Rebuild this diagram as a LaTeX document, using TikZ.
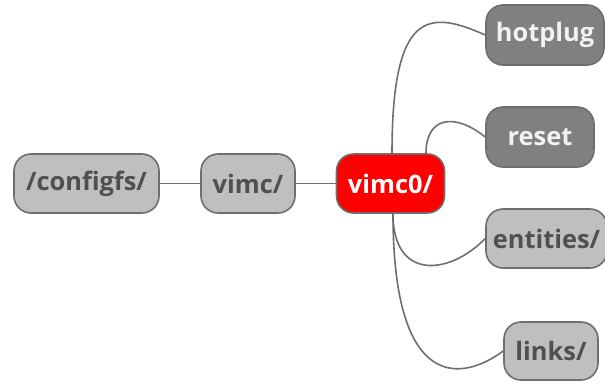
\documentclass[tikz,border=0pt]{standalone}
\usepackage{fontspec}
\setmainfont{Open Sans}
\definecolor{edgec}{HTML}{6E6E6E}
\definecolor{lightf}{HTML}{BFBFBF}
\definecolor{darkf}{HTML}{808080}
\definecolor{darktxt}{HTML}{505050}
\definecolor{lighttxt}{HTML}{F2F2F2}
\definecolor{redf}{HTML}{FF0000}
\tikzset{
  box/.style={draw=edgec, line width=1.6bp, rounded corners=17bp, inner sep=0pt,
    font=\fontsize{25.5}{28}\selectfont\bfseries},
  lightbox/.style={box, fill=lightf, text=darktxt},
  darkbox/.style={box, fill=darkf, text=lighttxt},
  redbox/.style={box, fill=redf, text=white},
  link/.style={draw=edgec, line width=1.6bp}
}
\begin{document}
\begin{tikzpicture}[x=1bp,y=-1bp]
\useasboundingbox (0,0) rectangle (605,384);
\node[lightbox, minimum width=145bp, minimum height=59bp] (configfs) at (86.5,183.5) {/configfs/};
\node[lightbox, minimum width=94bp, minimum height=59bp] (vimc) at (248,183.5) {vimc/};
\node[redbox, minimum width=108bp, minimum height=59bp] (vimc0) at (390.5,183.5) {vimc0/};
\node[darkbox, minimum width=118bp, minimum height=60bp] (hotplug) at (545,35) {hotplug};
\node[darkbox, minimum width=108bp, minimum height=60bp] (reset) at (540,137) {reset};
\node[lightbox, minimum width=121bp, minimum height=59bp] (entities) at (546.5,238.5) {entities/};
\node[lightbox, minimum width=94bp, minimum height=58bp] (links) at (551,351) {links/};
\draw[link] (configfs) -- (vimc);
\draw[link] (vimc) -- (vimc0);
\draw[link] ([xshift=1.5bp]vimc0.north) .. controls +(0,-144) and +(-56,-25) .. (hotplug.west);
\draw[link] ([xshift=35.5bp]vimc0.north) .. controls +(0,-36) and +(-31,-25) .. (reset.west);
\draw[link] ([xshift=2.5bp]vimc0.south) .. controls +(0,67) and +(-36,37) .. (entities.west);
\draw[link] ([xshift=2.5bp]vimc0.south) .. controls +(0,182) and +(-39,29) .. (links.west);
\end{tikzpicture}
\end{document}
